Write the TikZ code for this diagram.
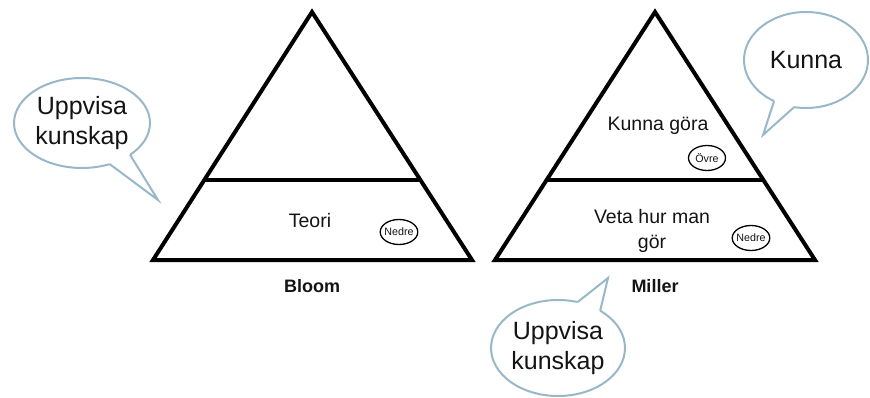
\documentclass[tikz,border=0pt]{standalone}
\usepackage{fontspec}
\setmainfont{Liberation Sans}
\usetikzlibrary{calc,shapes.geometric}
\definecolor{bubline}{RGB}{152,184,202}
\definecolor{ink}{RGB}{20,20,20}
\tikzset{
  pyr/.style={draw=black, line width=4pt, line join=miter},
  tier/.style={draw=black, line width=4pt},
  bub/.style={draw=bubline, line width=2pt, line join=miter},
  bubtext/.style={text=ink, align=center, font=\fontsize{25}{30}\selectfont},
  tiertext/.style={text=ink, align=center, font=\fontsize{19.5}{24.5}\selectfont},
  title/.style={text=ink, font=\fontsize{18}{22}\selectfont\bfseries},
  tag/.style={draw=black, line width=1.3pt, ellipse, inner xsep=-1.3pt, inner ysep=0pt,
    minimum width=37pt, minimum height=25pt, text=ink,
    font=\fontsize{10.7}{12}\selectfont},
}
\begin{document}
\begin{tikzpicture}[x=1pt, y=-1pt]
\useasboundingbox (0,0) rectangle (870,398);

% ---- Bloom pyramid ----
\coordinate (bA) at (312,12);
\coordinate (bL) at (153,260);
\coordinate (bR) at (472,260);
\draw[pyr] (bA) -- (bL) -- (bR) -- cycle;
\coordinate (bDL) at ($(bA)!0.677!(bL)$);
\coordinate (bDR) at ($(bA)!0.677!(bR)$);
\draw[tier] (bDL) -- (bDR);
\node[tiertext] (teori) at (310,221) {Teori};
\node[tag] (bnedre) at (399,232) {Nedre};
\node[title] (bloom) at (312,286) {Bloom};

% ---- Miller pyramid ----
\coordinate (mA) at (655,12);
\coordinate (mL) at (495,260);
\coordinate (mR) at (815,260);
\draw[pyr] (mA) -- (mL) -- (mR) -- cycle;
\coordinate (mDL) at ($(mA)!0.677!(mL)$);
\coordinate (mDR) at ($(mA)!0.677!(mR)$);
\draw[tier] (mDL) -- (mDR);
\node[tiertext] (kgora) at (658,126) {Kunna göra};
\node[tag] (movre) at (707,158) {Övre};
\node[tiertext] (veta) at (652,231) {Veta hur man\\gör};
\node[tag] (mnedre) at (751,238) {Nedre};
\node[title] (miller) at (655,286) {Miller};

% ---- speech bubbles: ellipse body plus a wedge tail ----
% left bubble
\coordinate (c1) at (82,123);
\draw[bub, fill=white] (c1) ellipse [x radius=68, y radius=45];
\path (c1) ++(45:68 and 45) coordinate (t1a) (c1) ++(66:68 and 45) coordinate (t1b);
\path (c1) ++(45:60 and 37) coordinate (t1ai) (c1) ++(66:60 and 37) coordinate (t1bi);
\coordinate (tip1) at (158,200);
\fill[white] (t1a) -- (tip1) -- (t1b) -- (t1bi) -- (t1ai) -- cycle;
\draw[bub] (t1a) -- (tip1) -- (t1b);
\node[bubtext] (u1) at (c1) {Uppvisa\\kunskap};

% upper right bubble
\coordinate (c2) at (806,60);
\draw[bub, fill=white] (c2) ellipse [x radius=62, y radius=48];
\path (c2) ++(121:62 and 48) coordinate (t2a) (c2) ++(101:62 and 48) coordinate (t2b);
\path (c2) ++(121:54 and 40) coordinate (t2ai) (c2) ++(101:54 and 40) coordinate (t2bi);
\coordinate (tip2) at (763,135);
\fill[white] (t2a) -- (tip2) -- (t2b) -- (t2bi) -- (t2ai) -- cycle;
\draw[bub] (t2a) -- (tip2) -- (t2b);
\node[bubtext] (k2) at (c2) {Kunna};

% lower bubble
\coordinate (c3) at (558,348);
\draw[bub, fill=white] (c3) ellipse [x radius=67, y radius=48];
\path (c3) ++(-73:67 and 48) coordinate (t3a) (c3) ++(-51:67 and 48) coordinate (t3b);
\path (c3) ++(-73:59 and 40) coordinate (t3ai) (c3) ++(-51:59 and 40) coordinate (t3bi);
\coordinate (tip3) at (608,278);
\fill[white] (t3a) -- (tip3) -- (t3b) -- (t3bi) -- (t3ai) -- cycle;
\draw[bub] (t3a) -- (tip3) -- (t3b);
\node[bubtext] (u3) at (c3) {Uppvisa\\kunskap};
\end{tikzpicture}
\end{document}
